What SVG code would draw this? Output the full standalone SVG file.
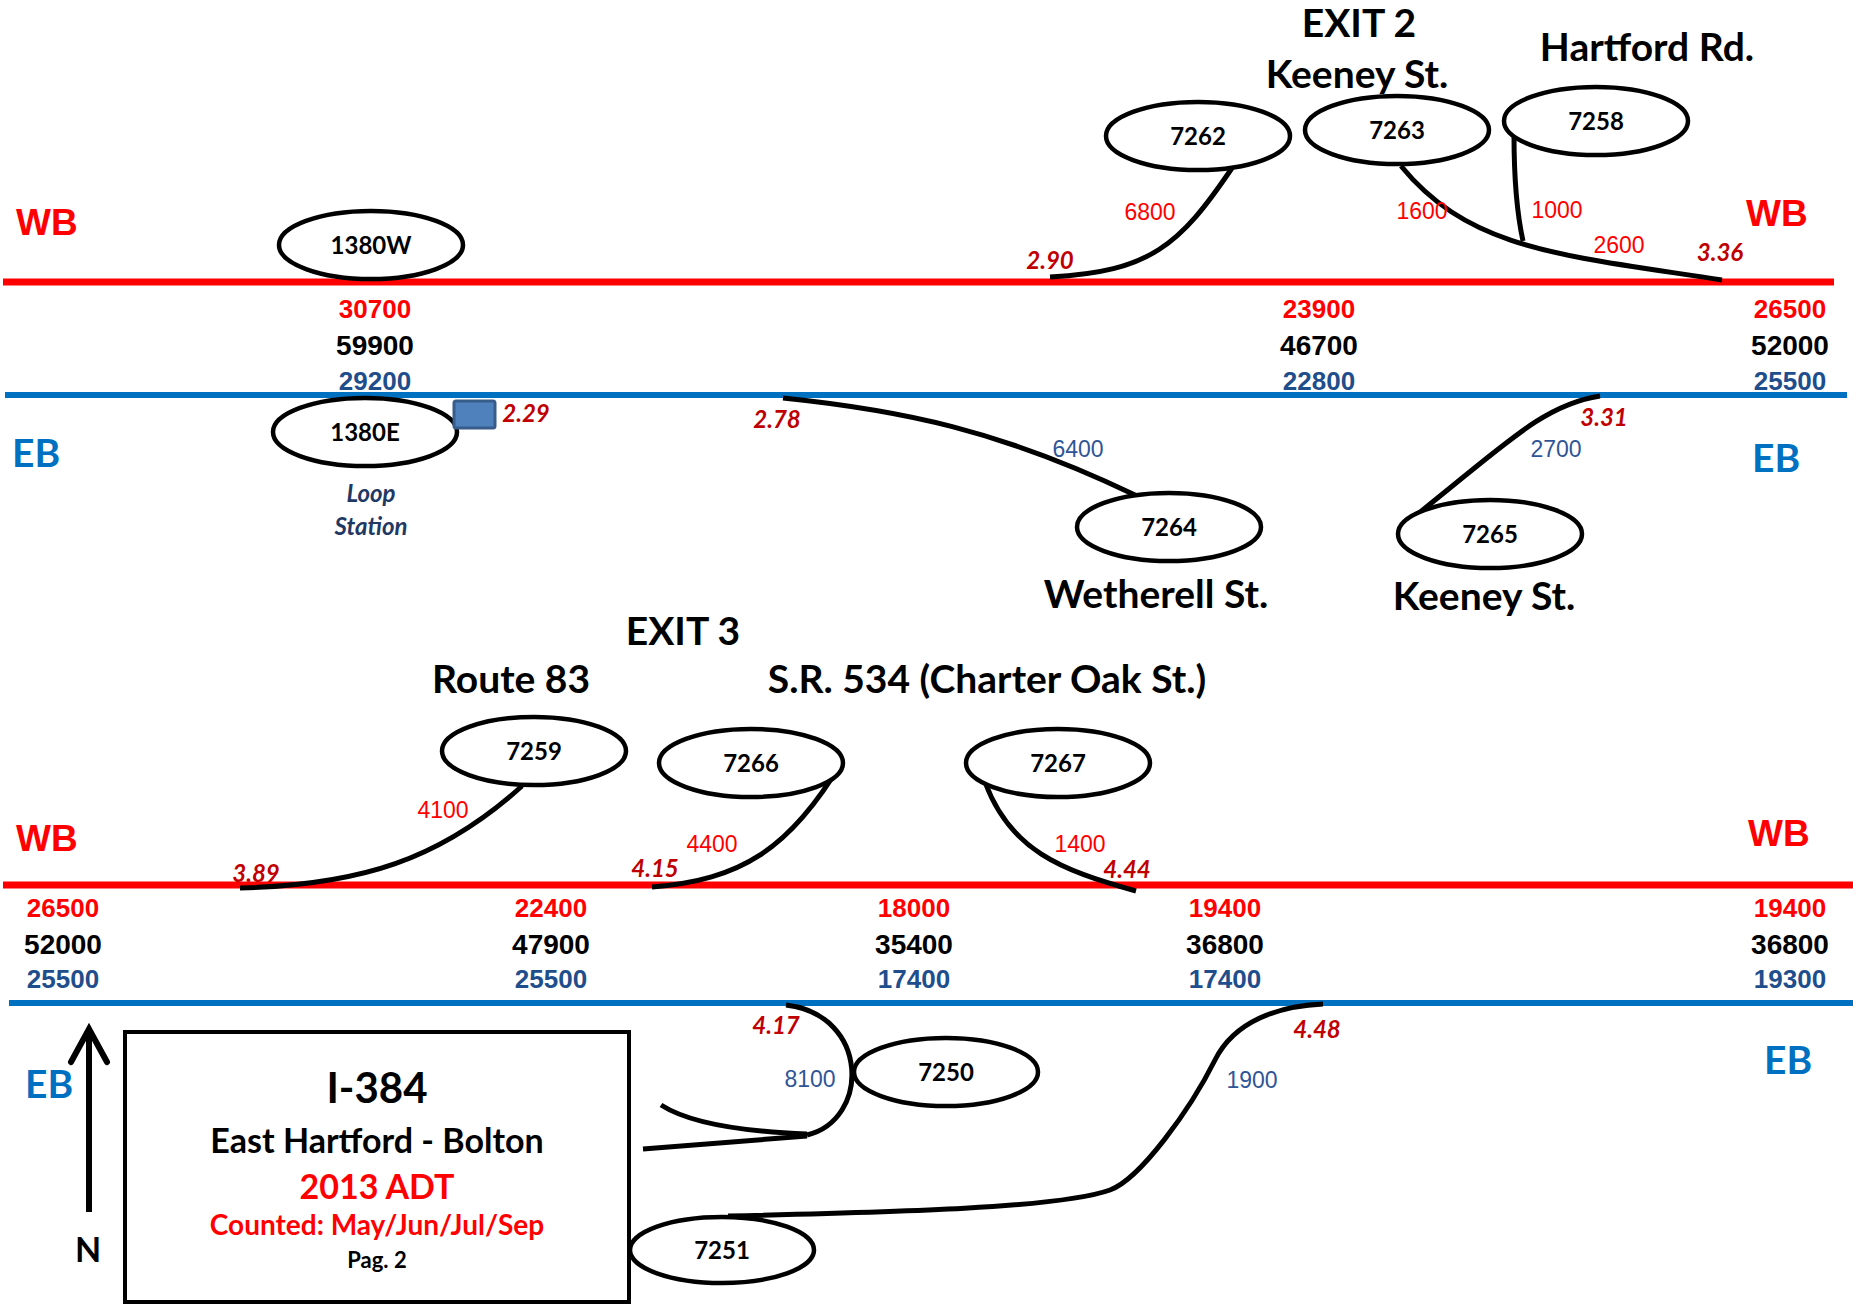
<svg xmlns="http://www.w3.org/2000/svg" width="1853" height="1305" viewBox="0 0 1853 1305">
<style>
.wb{stroke:#FF0000;stroke-width:7;fill:none}
.eb{stroke:#0070C0;stroke-width:6;fill:none}
.node ellipse{fill:#fff;stroke:#000;stroke-width:4.5}
.node text{font-family:Lato,"Noto Sans",sans-serif;font-weight:bold;font-size:24px;text-anchor:middle;fill:#000}
.ramp{fill:none;stroke:#000;stroke-width:5}
.vr{font-family:"Liberation Sans",Arial,sans-serif;font-size:23px;fill:#FF0000;text-anchor:middle}
.vb{font-family:"Liberation Sans",Arial,sans-serif;font-size:23px;fill:#2F5597;text-anchor:middle}
.mp{font-family:Lato,"Noto Sans",sans-serif;font-weight:bold;font-style:italic;font-size:24px;fill:#C00000;text-anchor:middle}
.ar{font-family:"Liberation Sans",Arial,sans-serif;font-weight:bold;font-size:26px;fill:#FF0000;text-anchor:middle}
.ak{font-family:"Liberation Sans",Arial,sans-serif;font-weight:bold;font-size:28px;fill:#000;text-anchor:middle}
.ab{font-family:"Liberation Sans",Arial,sans-serif;font-weight:bold;font-size:26px;fill:#1F4E8C;text-anchor:middle}
.dw{font-family:"Liberation Sans",Arial,sans-serif;font-weight:bold;font-size:37px;fill:#FF0000}
.de{font-family:Lato,"Noto Sans",sans-serif;font-weight:bold;font-size:39px;fill:#0070C0}
.st{font-family:Lato,"Noto Sans",sans-serif;font-weight:bold;font-size:39px;fill:#000;text-anchor:middle}
.lg{font-family:Lato,"Noto Sans",sans-serif;font-weight:bold;text-anchor:middle}
</style>
<rect width="1853" height="1305" fill="#fff"/>

<g id="roads">
<line class="wb" x1="3" y1="282" x2="1834" y2="282"/>
<line class="eb" x1="5" y1="395" x2="1847" y2="395"/>
<line class="wb" x1="3" y1="885" x2="1853" y2="885"/>
<line class="eb" x1="9" y1="1003" x2="1853" y2="1003"/>
</g>

<g id="connectors">
<path class="ramp" d="M1232,168 C1180,245 1150,272 1050,277"/>
<path class="ramp" d="M1401,166 C1470,250 1560,255 1722,280"/>
<path class="ramp" d="M1514,135 Q1514,200 1523,241"/>
<path class="ramp" d="M783,398 C900,410 1000,430 1135,495"/>
<path class="ramp" d="M1600,396 C1540,405 1500,450 1400,528"/>
<path class="ramp" d="M240,888 C360,885 440,860 522,786"/>
<path class="ramp" d="M652,887 C740,880 790,850 843,760"/>
<path class="ramp" d="M985,782 C1010,850 1060,870 1136,891"/>
<path class="ramp" d="M786,1005 C870,1015 870,1120 807,1135"/>
<path class="ramp" d="M661,1105 Q700,1130 807,1134"/>
<path class="ramp" d="M643,1149 L807,1136"/>
<path class="ramp" d="M728,1216 C900,1212 1060,1208 1110,1190 C1140,1179 1190,1110 1215,1060 C1235,1020 1280,1006 1323,1004"/>
</g>

<g id="n1380W" class="node"><ellipse cx="371" cy="245" rx="92" ry="34"/><text x="371" y="254">1380W</text></g>
<g id="n1380E" class="node"><ellipse cx="365" cy="432" rx="92" ry="34"/><text x="365" y="441">1380E</text></g>
<g id="n7262" class="node"><ellipse cx="1198" cy="136" rx="92" ry="34"/><text x="1198" y="145">7262</text></g>
<g id="n7263" class="node"><ellipse cx="1397" cy="130" rx="92" ry="34"/><text x="1397" y="139">7263</text></g>
<g id="n7258" class="node"><ellipse cx="1596" cy="121" rx="92" ry="34"/><text x="1596" y="130">7258</text></g>
<g id="n7264" class="node"><ellipse cx="1169" cy="527" rx="92" ry="34"/><text x="1169" y="536">7264</text></g>
<g id="n7265" class="node"><ellipse cx="1490" cy="534" rx="92" ry="34"/><text x="1490" y="543">7265</text></g>
<g id="n7259" class="node"><ellipse cx="534" cy="751" rx="92" ry="34"/><text x="534" y="760">7259</text></g>
<g id="n7266" class="node"><ellipse cx="751" cy="763" rx="92" ry="34"/><text x="751" y="772">7266</text></g>
<g id="n7267" class="node"><ellipse cx="1058" cy="763" rx="92" ry="34"/><text x="1058" y="772">7267</text></g>
<g id="n7250" class="node"><ellipse cx="946" cy="1072" rx="92" ry="34"/><text x="946" y="1081">7250</text></g>
<g id="n7251" class="node"><ellipse cx="722" cy="1250" rx="92" ry="33"/><text x="722" y="1259">7251</text></g>

<g id="loop-station">
<rect x="454" y="401" width="41" height="27" rx="2" fill="#4F81BD" stroke="#385D8A" stroke-width="3"/>
<text class="lg" x="371" y="502" font-size="24" font-style="italic" fill="#1F3864">Loop</text>
<text class="lg" x="371" y="535" font-size="24" font-style="italic" fill="#1F3864">Station</text>
</g>

<g id="street-labels">
<text class="st" x="1359" y="37">EXIT 2</text>
<text class="st" x="1357" y="88">Keeney St.</text>
<text class="st" x="1647" y="61">Hartford Rd.</text>
<text class="st" x="1156" y="608">Wetherell St.</text>
<text class="st" x="1484" y="610">Keeney St.</text>
<text class="st" x="683" y="645">EXIT 3</text>
<text class="st" x="511" y="693">Route 83</text>
<text class="st" x="987" y="693">S.R. 534 (Charter Oak St.)</text>
</g>

<g id="direction-labels">
<text class="dw" x="16" y="235">WB</text>
<text class="dw" x="1746" y="226">WB</text>
<text class="de" x="12" y="467">EB</text>
<text class="de" x="1752" y="472">EB</text>
<text class="dw" x="16" y="851">WB</text>
<text class="dw" x="1748" y="846">WB</text>
<text class="de" x="25" y="1098">EB</text>
<text class="de" x="1764" y="1074">EB</text>
</g>

<g id="ramp-volumes">
<text class="vr" x="1150" y="220">6800</text>
<text class="vr" x="1422" y="219">1600</text>
<text class="vr" x="1557" y="218">1000</text>
<text class="vr" x="1619" y="253">2600</text>
<text class="vb" x="1078" y="457">6400</text>
<text class="vb" x="1556" y="457">2700</text>
<text class="vr" x="443" y="818">4100</text>
<text class="vr" x="712" y="852">4400</text>
<text class="vr" x="1080" y="852">1400</text>
<text class="vb" x="810" y="1087">8100</text>
<text class="vb" x="1252" y="1088">1900</text>
</g>

<g id="mileposts">
<text class="mp" x="1050" y="269">2.90</text>
<text class="mp" x="1720" y="261">3.36</text>
<text class="mp" x="526" y="422">2.29</text>
<text class="mp" x="777" y="428">2.78</text>
<text class="mp" x="1604" y="426">3.31</text>
<text class="mp" x="256" y="882">3.89</text>
<text class="mp" x="655" y="877">4.15</text>
<text class="mp" x="1127" y="878">4.44</text>
<text class="mp" x="776" y="1034">4.17</text>
<text class="mp" x="1317" y="1038">4.48</text>
</g>

<g id="adt-top">
<text class="ar" x="375" y="318">30700</text>
<text class="ak" x="375" y="355">59900</text>
<text class="ab" x="375" y="390">29200</text>
<text class="ar" x="1319" y="318">23900</text>
<text class="ak" x="1319" y="355">46700</text>
<text class="ab" x="1319" y="390">22800</text>
<text class="ar" x="1790" y="318">26500</text>
<text class="ak" x="1790" y="355">52000</text>
<text class="ab" x="1790" y="390">25500</text>
</g>

<g id="adt-bottom">
<text class="ar" x="63" y="917">26500</text>
<text class="ak" x="63" y="954">52000</text>
<text class="ab" x="63" y="988">25500</text>
<text class="ar" x="551" y="917">22400</text>
<text class="ak" x="551" y="954">47900</text>
<text class="ab" x="551" y="988">25500</text>
<text class="ar" x="914" y="917">18000</text>
<text class="ak" x="914" y="954">35400</text>
<text class="ab" x="914" y="988">17400</text>
<text class="ar" x="1225" y="917">19400</text>
<text class="ak" x="1225" y="954">36800</text>
<text class="ab" x="1225" y="988">17400</text>
<text class="ar" x="1790" y="917">19400</text>
<text class="ak" x="1790" y="954">36800</text>
<text class="ab" x="1790" y="988">19300</text>
</g>

<g id="north-arrow">
<line x1="89" y1="1212" x2="89" y2="1031" stroke="#000" stroke-width="6"/>
<polyline points="71,1062 89,1029 107,1062" fill="none" stroke="#000" stroke-width="6" stroke-linecap="round" stroke-linejoin="miter"/>
<text class="lg" x="88" y="1262" font-size="34" fill="#000">N</text>
</g>

<g id="legend">
<rect x="125" y="1032" width="504" height="270" fill="none" stroke="#000" stroke-width="4"/>
<text class="lg" x="377" y="1103" font-size="42" fill="#000">I-384</text>
<text class="lg" x="377" y="1153" font-size="34" fill="#000">East Hartford - Bolton</text>
<text class="lg" x="377" y="1199" font-size="34" fill="#FF0000">2013 ADT</text>
<text class="lg" x="377" y="1235" font-size="28" fill="#FF0000">Counted: May/Jun/Jul/Sep</text>
<text class="lg" x="377" y="1268" font-size="22" fill="#000">Pag. 2</text>
</g>
</svg>
